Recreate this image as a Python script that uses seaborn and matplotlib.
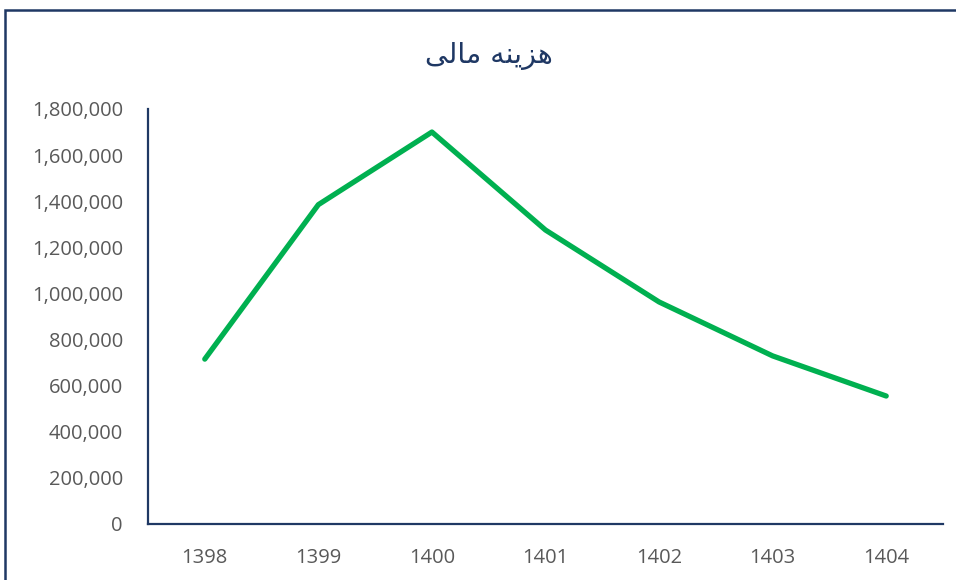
import matplotlib
matplotlib.use('Agg')
import matplotlib.pyplot as plt
from matplotlib.patches import Rectangle
import seaborn as sns
import pandas as pd

# data
years = ['1398', '1399', '1400', '1401', '1402', '1403', '1404']
cost = [715000, 1385000, 1700000, 1275000, 963000, 729000, 555000]

# "هزینه مالی" in Arabic presentation forms, visual order (matplotlib has no shaping)
title_text = '\ufbfd\ufedf\ufe8e\ufee3 \ufeea\ufee8\ufbfe\ufeb0\ufeeb'

navy = '#1F3864'
grey = '#595959'

df = pd.DataFrame({'year': years, 'cost': cost})

sns.set_style('white')
plt.rcParams['font.family'] = ['Open Sans', 'DejaVu Sans']

fig = plt.figure(figsize=(9.56, 5.8), dpi=100)
ax = fig.add_axes([0.1548, 0.0966, 0.8316, 0.7155])

sns.lineplot(data=df, x='year', y='cost', color='#00B050', linewidth=3.8,
             solid_capstyle='round', solid_joinstyle='round', ax=ax)

ax.set_xlim(-0.5, 6.5)
ax.set_ylim(0, 1800000)
ax.set_yticks(range(0, 1800001, 200000))
ax.set_yticklabels([f'{v:,}' for v in range(0, 1800001, 200000)])
ax.set_xlabel('')
ax.set_ylabel('')
ax.tick_params(axis='both', length=0, labelsize=14.5, labelcolor=grey)
ax.tick_params(axis='y', pad=18)
ax.tick_params(axis='x', pad=17.5)

for s in ['top', 'right']:
    ax.spines[s].set_visible(False)
for s in ['left', 'bottom']:
    ax.spines[s].set_color(navy)
    ax.spines[s].set_linewidth(1.6)

fig.text(0.511, 0.903, title_text, ha='center', va='center', fontsize=20.5,
         color=navy, family=['DejaVu Sans'])

# chart frame (runs off the right and bottom edge)
fig.add_artist(Rectangle((5 / 956, -0.1), 1.2, 1.1 - 10 / 580, transform=fig.transFigure,
                         fill=False, edgecolor=navy, linewidth=1.8))

fig.savefig('out.png', dpi=100)
